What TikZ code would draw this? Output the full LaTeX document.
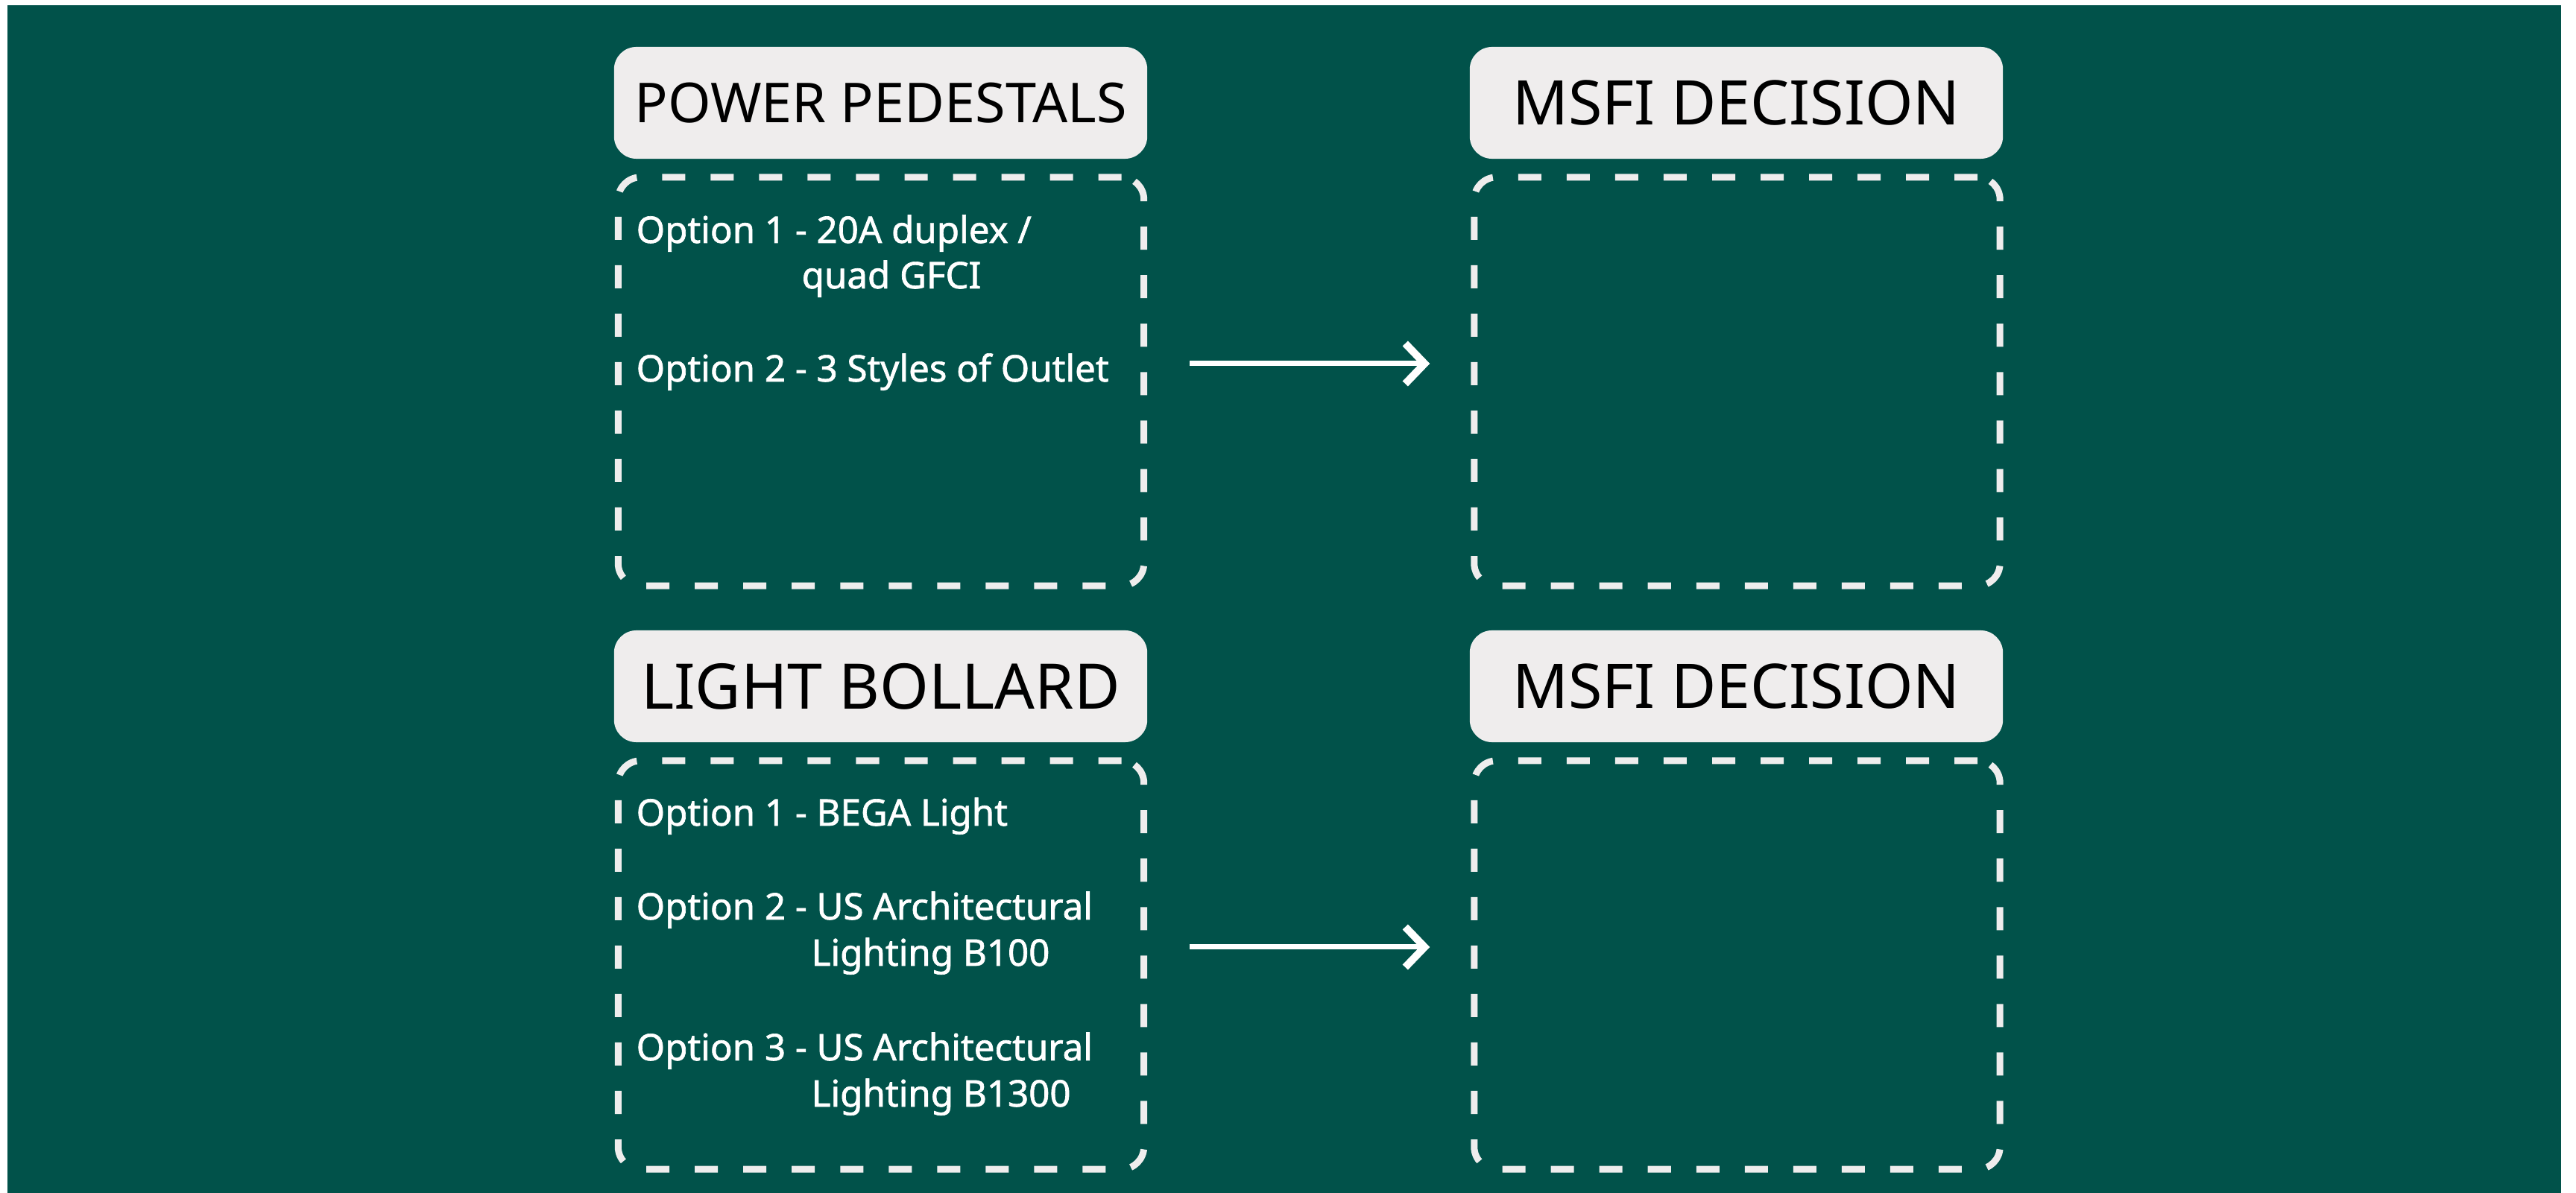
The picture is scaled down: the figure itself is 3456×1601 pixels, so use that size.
\documentclass[tikz,border=0pt]{standalone}
\usepackage{fontspec}
\setmainfont{Noto Sans}
\newfontfamily\optfont{Noto Sans}[FakeBold=1.4]
\usetikzlibrary{arrows.meta}
\definecolor{boardgreen}{RGB}{1,82,74}
\definecolor{capgrey}{RGB}{239,237,237}

\begin{document}
\begin{tikzpicture}[
  x=0.01cm, y=-0.01cm,
  headbox/.style={fill=capgrey,text=black,rounded corners=0.3cm,minimum width=7.15cm,minimum height=1.5cm,inner sep=0pt},
  optbox/.style={draw=capgrey,line width=0.09cm,dash pattern=on 0.31cm off 0.34cm,rounded corners=0.3cm,minimum width=7.05cm,minimum height=5.48cm,inner sep=0pt},
  opttext/.style={text=white,anchor=base west,inner sep=0pt,font=\optfont\fontsize{14}{17}\selectfont},
  route/.style={-{Straight Barb[length=0.26cm,width=0.54cm,line width=0.1cm]},draw=white,line width=0.07cm,shorten <=0.57cm,shorten >=0.55cm}
]
  \useasboundingbox (0,0) rectangle (3456,1601);
  \fill[white] (0,0) rectangle (3456,1601);
  \fill[boardgreen] (10,7) rectangle (3436,1601);

  % headings
  \node[headbox,font=\fontsize{21}{25}\selectfont] (PH) at (1181.5,138) {POWER PEDESTALS};
  \node[headbox,font=\fontsize{23.5}{28}\selectfont] (PM) at (2329.5,138) {MSFI DECISION};
  \node[headbox,font=\fontsize{24}{29}\selectfont] (LH) at (1181.5,921) {LIGHT BOLLARD};
  \node[headbox,font=\fontsize{23.5}{28}\selectfont] (LM) at (2329.5,921) {MSFI DECISION};

  % dashed panels
  \node[optbox] (PB) at (1182,512) {};
  \node[optbox] (PD) at (2330.5,512) {};
  \node[optbox] (LB) at (1182,1295) {};
  \node[optbox] (LD) at (2330.5,1295) {};

  % options
  \node[opttext] (P1) at (853,326) {Option 1 - 20A duplex /};
  \node[opttext] (P1b) at (1075,387) {quad GFCI};
  \node[opttext] (P2) at (853,512) {Option 2 - 3 Styles of Outlet};

  \node[opttext] (L1) at (853,1108) {Option 1 - BEGA Light};
  \node[opttext] (L2) at (853,1234) {Option 2 - US Architectural};
  \node[opttext] (L2b) at (1088,1296) {Lighting B100};
  \node[opttext] (L3) at (853,1423) {Option 3 - US Architectural};
  \node[opttext] (L3b) at (1088,1485) {Lighting B1300};

  \draw[route] ([yshift=0.24cm]PB.east) -- ([yshift=0.24cm]PD.west);
  \draw[route] ([yshift=0.24cm]LB.east) -- ([yshift=0.24cm]LD.west);
\end{tikzpicture}
\end{document}
